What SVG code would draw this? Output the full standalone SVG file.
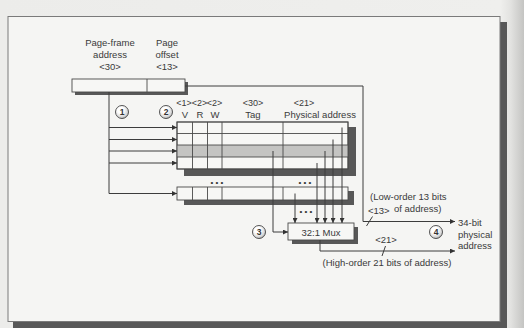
<svg xmlns="http://www.w3.org/2000/svg" width="524" height="328" viewBox="0 0 524 328">
<defs>
<linearGradient id="bg" x1="0" x2="1" y1="0" y2="0">
<stop offset="0" stop-color="#ececea"/>
<stop offset="0.955" stop-color="#efefed"/>
<stop offset="0.975" stop-color="#e2e2e0"/>
<stop offset="1" stop-color="#c4c4c2"/>
</linearGradient>
<radialGradient id="ball" cx="0.4" cy="0.35" r="0.7">
<stop offset="0.35" stop-color="#ffffff"/>
<stop offset="0.8" stop-color="#d4d4d4"/>
<stop offset="1" stop-color="#8e8e8e"/>
</radialGradient>
<marker id="ah" viewBox="0 0 6 6" refX="6" refY="3" markerWidth="6" markerHeight="5" orient="auto" markerUnits="userSpaceOnUse">
<path d="M0,0 L6,3 L0,6 z" fill="#333"/>
</marker>
<style>
text{font-family:"Liberation Sans",Arial,sans-serif;font-size:9.5px;fill:#3a3a3a}
.c{text-anchor:middle}
.sm{font-size:9px}
.ln{fill:none;stroke:#3c3c3c;stroke-width:1}
.arr{marker-end:url(#ah)}
.shadow{fill:#585858}
.cell{fill:#f7f7f5;stroke:#4a4a4a;stroke-width:0.9}
.grid{stroke:#4a4a4a;stroke-width:0.9}
.shade{fill:#c4c4c2}
.ball{fill:url(#ball);stroke:#444;stroke-width:0.9}
.num{font-size:8.5px;font-weight:bold;text-anchor:middle;fill:#333}
.dots{font-size:8px;text-anchor:middle;fill:#333}
</style>
</defs>

<rect x="0" y="0" width="524" height="328" fill="url(#bg)"/>
<g id="frame">
<rect x="13" y="22" width="494" height="306" class="shadow"/>
<rect x="8" y="16.5" width="492" height="305" fill="#f5f5f3" stroke="#7a7a7a" stroke-width="1"/>
</g>

<g id="register">
<rect x="75" y="82" width="113" height="13" class="shadow"/>
<rect x="72" y="79" width="113" height="13" class="cell"/>
<line x1="147" y1="79" x2="147" y2="92" class="grid"/>
<text x="110" y="46" class="c">Page-frame</text>
<text x="110" y="57.5" class="c">address</text>
<text x="110" y="69.5" class="c">&lt;30&gt;</text>
<text x="167" y="46" class="c">Page</text>
<text x="167" y="57.5" class="c">offset</text>
<text x="167" y="69.5" class="c">&lt;13&gt;</text>
</g>

<g id="tlb">
<text x="184" y="106" class="c sm">&lt;1&gt;</text>
<text x="199.5" y="106" class="c sm">&lt;2&gt;</text>
<text x="214.5" y="106" class="c sm">&lt;2&gt;</text>
<text x="185" y="118" class="c">V</text>
<text x="200" y="118" class="c">R</text>
<text x="215" y="118" class="c">W</text>
<text x="253" y="106" class="c sm">&lt;30&gt;</text>
<text x="253" y="118" class="c">Tag</text>
<text x="304" y="106" class="c sm">&lt;21&gt;</text>
<text x="320" y="118" class="c">Physical address</text>

<rect x="184" y="127" width="172" height="49" class="shadow"/>
<rect x="177" y="122" width="171" height="47" class="cell"/>
<rect x="177" y="145" width="171" height="12" class="shade"/>
<line x1="177" y1="133.5" x2="348" y2="133.5" class="grid"/>
<line x1="177" y1="145" x2="348" y2="145" class="grid"/>
<line x1="177" y1="157" x2="348" y2="157" class="grid"/>
<rect x="177" y="122" width="171" height="47" fill="none" stroke="#4a4a4a" stroke-width="0.9"/>
<line x1="192.5" y1="122" x2="192.5" y2="169" class="grid"/>
<line x1="207.5" y1="122" x2="207.5" y2="169" class="grid"/>
<line x1="222" y1="122" x2="222" y2="169" class="grid"/>
<line x1="283" y1="122" x2="283" y2="169" class="grid"/>

<text x="217" y="185" class="dots">• • •</text>
<text x="305" y="185" class="dots">• • •</text>

<rect x="184" y="191" width="170" height="14" class="shadow"/>
<rect x="177" y="187" width="171" height="13" class="cell"/>
<line x1="192.5" y1="187" x2="192.5" y2="200" class="grid"/>
<line x1="207.5" y1="187" x2="207.5" y2="200" class="grid"/>
<line x1="222" y1="187" x2="222" y2="200" class="grid"/>
<line x1="283" y1="187" x2="283" y2="200" class="grid"/>
</g>

<g id="mux">
<rect x="292" y="227" width="66" height="17" class="shadow"/>
<rect x="288" y="223" width="66" height="17" class="cell"/>
<text x="321" y="235.5" class="c">32:1 Mux</text>
</g>

<g id="connectors">
<path d="M185,86 H363 V221.5 H455" class="ln arr"/>
<path d="M109,92 V193.5" class="ln"/>
<path d="M109,127.5 H177" class="ln arr"/>
<path d="M109,139.5 H177" class="ln arr"/>
<path d="M109,151 H177" class="ln arr"/>
<path d="M109,163 H177" class="ln arr"/>
<path d="M109,193.5 H177" class="ln arr"/>
<path d="M273,151 V232 H288" class="ln arr"/>
<path d="M342,127.5 V223" class="ln arr"/>
<path d="M333,139.5 V223" class="ln arr"/>
<path d="M325,151 V223" class="ln arr"/>
<path d="M317,163 V223" class="ln arr"/>
<path d="M295,193.5 V223" class="ln arr"/>
<text x="306" y="214" class="dots">• • •</text>
<path d="M320,240 V251 H455" class="ln arr"/>
<path d="M372.5,216.5 L366.5,226" class="ln"/>
<path d="M385.5,246 L382,256" class="ln"/>
</g>

<g id="labels">
<text x="370" y="200">(Low-order 13 bits</text>
<text x="368" y="214">&lt;13&gt;</text>
<text x="394" y="212">of address)</text>
<text x="386" y="243" class="c">&lt;21&gt;</text>
<text x="387" y="266" class="c">(High-order 21 bits of address)</text>
<text x="458" y="226">34-bit</text>
<text x="458" y="237.5">physical</text>
<text x="458" y="249">address</text>
</g>

<g id="step1"><circle cx="122" cy="112" r="6.5" class="ball"/><text x="122" y="115" class="num">1</text></g>
<g id="step2"><circle cx="166" cy="112" r="6.5" class="ball"/><text x="166" y="115" class="num">2</text></g>
<g id="step3"><circle cx="259" cy="232" r="6.5" class="ball"/><text x="259" y="235" class="num">3</text></g>
<g id="step4"><circle cx="436" cy="232" r="6.5" class="ball"/><text x="436" y="235" class="num">4</text></g>
</svg>
